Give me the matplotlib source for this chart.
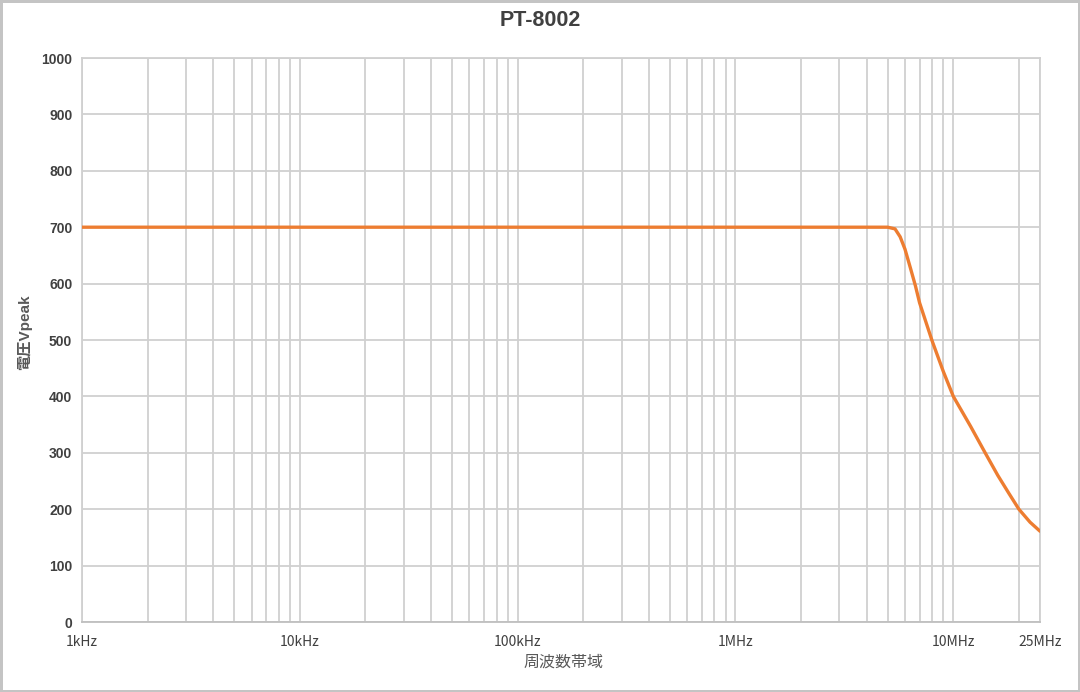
import matplotlib
matplotlib.use("Agg")
import matplotlib.pyplot as plt
from matplotlib.ticker import FixedLocator, NullFormatter

# Data
freq_hz = [1e3, 1e4, 1e5, 1e6, 5e6, 5.4e6, 5.7e6, 6e6, 6.35e6, 6.7e6, 7e6, 8e6, 9e6, 10e6,
           12e6, 14e6, 16e6, 18e6, 20e6, 22.5e6, 25e6]
vpeak = [700, 700, 700, 700, 700, 697, 683, 661, 628, 596, 566, 498, 444, 400,
         347, 300, 260, 228, 200, 177, 161]

xtick_pos = [1e3, 1e4, 1e5, 1e6, 1e7, 2.5e7]
xtick_labels = ["1kHz", "10kHz", "100kHz", "1MHz", "10MHz", "25MHz"]
minor_pos = [m * d for d in (1e3, 1e4, 1e5, 1e6) for m in range(2, 10)] + [2e7]
yticks = list(range(0, 1001, 100))

title = "PT-8002"
xlabel = "周波数帯域"
ylabel = "電圧Vpeak"

grid_c = "#d0d0d0"
text_c = "#404040"
line_c = "#ED7D31"

fig = plt.figure(figsize=(10.8, 6.92), dpi=100, edgecolor="#c4c4c4", linewidth=2.5)
ax = fig.add_axes([82 / 1080, 1 - 622 / 692, (1040 - 82) / 1080, (622 - 58) / 692])

ax.plot(freq_hz, vpeak, color=line_c, linewidth=2.4, solid_capstyle="round",
        solid_joinstyle="round", zorder=3)

ax.set_xscale("log")
ax.set_xlim(1e3, 2.5e7)
ax.set_ylim(0, 1000)

ax.xaxis.set_major_locator(FixedLocator(xtick_pos))
ax.set_xticklabels(xtick_labels)
ax.xaxis.set_minor_locator(FixedLocator(minor_pos))
ax.xaxis.set_minor_formatter(NullFormatter())
ax.set_yticks(yticks)
ax.set_yticklabels([str(v) for v in yticks])

ax.grid(True, which="both", axis="x", color=grid_c, linewidth=1.3)
ax.grid(True, which="major", axis="y", color=grid_c, linewidth=1.3)
ax.set_axisbelow(True)

for s in ax.spines.values():
    s.set_color(grid_c)
    s.set_linewidth(1.3)
ax.spines["bottom"].set_color("#bfbfbf")

ax.tick_params(axis="both", which="both", length=0)
ax.tick_params(axis="x", pad=9, labelsize=10, labelcolor=text_c)
ax.tick_params(axis="y", pad=7, labelsize=10, labelcolor=text_c)
for lab in ax.get_xticklabels():
    lab.set_family(["Noto Sans CJK JP", "DejaVu Sans"])
    lab.set_fontstretch("condensed")
for lab in ax.get_yticklabels():
    lab.set_family(["Liberation Sans", "DejaVu Sans"])
    lab.set_fontweight("bold")

fig.text(0.5, 1 - 21 / 692, title, ha="center", va="center",
         fontsize=15.5, fontweight="bold", color=text_c,
         family=["Liberation Sans", "DejaVu Sans"])
fig.text(563 / 1080, 1 - 662 / 692, xlabel, ha="center", va="center",
         fontsize=11.5, color="#595959", family=["Noto Sans CJK JP", "DejaVu Sans"])
fig.text(25 / 1080, 1 - 332 / 692, ylabel, ha="center", va="center", rotation=90,
         fontsize=11, fontweight="bold", color="#595959",
         family=["Liberation Sans", "Noto Sans CJK JP"])

fig.savefig("out.png", dpi=100)
